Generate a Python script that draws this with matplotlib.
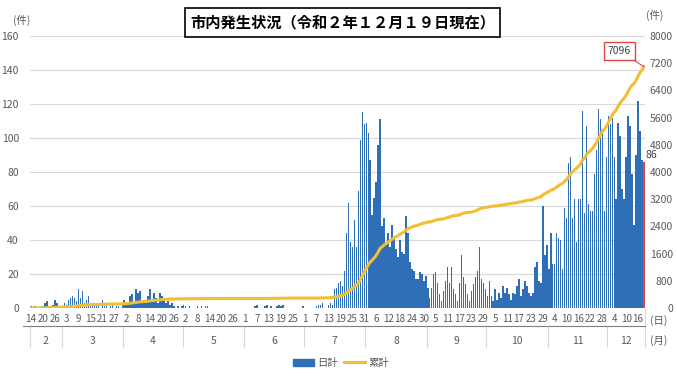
import numpy as np
import pandas as pd
import matplotlib
matplotlib.use("Agg")
import matplotlib.pyplot as plt
from matplotlib.patches import Rectangle, Patch
from matplotlib.lines import Line2D

plt.rcParams["font.family"] = ["Noto Sans CJK JP", "DejaVu Sans"]

# === Data: daily new cases (日計), 2020-02-14 .. 2020-12-19 ===
feb = [1, 0, 1, 0, 0, 0, 1, 3, 4, 1, 0, 2, 5, 3, 0, 1]
mar = [1, 3, 2, 5, 6, 7, 6, 4, 11, 6, 10, 3, 5, 7, 2, 1, 3, 2, 1, 0, 5, 1, 2, 0, 1, 2, 0, 1, 1, 0, 3]
apr = [5, 2, 3, 7, 8, 3, 11, 9, 10, 4, 5, 3, 7, 11, 4, 9, 6, 3, 9, 7, 5, 3, 4, 2, 3, 1, 0, 1, 0, 1]
may = [2, 1, 0, 1, 0, 0, 0, 1, 0, 1, 0, 1, 1, 0, 0, 0, 0, 0, 0, 0, 0, 0, 0, 0, 0, 0, 0, 0, 0, 0, 0]
jun = [0, 0, 0, 0, 0, 1, 2, 0, 0, 0, 1, 2, 0, 1, 0, 0, 1, 2, 1, 2, 0, 0, 0, 0, 0, 0, 0, 0, 0, 1]
jul = [0, 0, 0, 0, 0, 0, 1, 2, 2, 3, 0, 0, 2, 3, 2,
       11, 12, 15, 16, 13, 22, 44, 62, 39, 36, 52, 36, 69, 99, 115, 108]
aug = [109, 103, 87, 55, 65, 74, 96, 111, 48, 53, 37, 44, 36, 49, 42, 35, 30, 40, 33, 32,
       54, 44, 27, 23, 22, 17, 17, 21, 20, 16, 19]
sep = [12, 6, 12, 20, 21, 15, 8, 4, 10, 16, 24, 15, 24, 11, 8, 4, 15, 31, 18, 14,
       8, 4, 10, 14, 18, 22, 36, 17, 15, 11]
oct_ = [7, 16, 7, 4, 11, 5, 9, 6, 13, 9, 12, 8, 5, 9, 8, 13, 17, 7, 11, 16,
        13, 9, 7, 9, 24, 27, 16, 15, 60, 31, 37]
nov = [23, 44, 26, 26, 44, 41, 40, 23, 59, 53, 85, 89, 53, 64, 39, 64, 64, 116, 56, 107,
       61, 57, 57, 79, 93, 117, 111, 105, 57, 89]
dec = [113, 108, 112, 89, 64, 109, 101, 70, 64, 89, 113, 107, 79, 49, 90, 122, 104, 87, 86]

title = "市内発生状況（令和２年１２月１９日現在）"
BLUE = "#2E6FB7"
GOLD = "#F3BE34"
RED = "#E04545"
GRAY = "#595959"

dates = pd.date_range("2020-02-14", "2020-12-19")
daily = np.array(feb + mar + apr + may + jun + jul + aug + sep + oct_ + nov + dec)
cum = np.cumsum(daily)
x = np.arange(len(daily))

fig = plt.figure(figsize=(6.77, 3.79), dpi=100)
ax = fig.add_axes([30 / 677, 71 / 379, 615 / 677, 272 / 379])
ax.set_xlim(-0.5, len(x) - 0.5)
ax.set_ylim(0, 160)

ax.bar(x[:-1], daily[:-1], width=0.75, color=BLUE, zorder=2)
ax.bar(x[-1], daily[-1], width=0.75, color=RED, zorder=2)
ax.annotate(str(daily[-1]), xy=(x[-1], daily[-1]), xytext=(1, 5), textcoords="offset points",
            ha="left", va="center", fontsize=7.5, color="#404040")

ax.set_yticks(range(0, 161, 20))
ax.yaxis.grid(True, color="#D9D9D9", lw=0.8)
ax.set_axisbelow(True)
for s in ax.spines.values():
    s.set_visible(False)
ax.tick_params(axis="y", length=0, pad=8, labelsize=7.5, labelcolor=GRAY)

# day ticks every 6 days
ax.set_xticks(x[::6])
ax.set_xticklabels([str(d.day) for d in dates[::6]])
ax.tick_params(axis="x", length=0, pad=4, labelsize=7, labelcolor=GRAY)

# month row
xt = ax.get_xaxis_transform()
months = pd.Series(x, index=dates).groupby(dates.month)
for m, idx in months:
    ax.text((idx.iloc[0] + idx.iloc[-1]) / 2, -0.121, str(m), transform=xt,
            ha="center", va="center", fontsize=7.5, color=GRAY)
    ax.plot([idx.iloc[0] - 0.5] * 2, [-0.066, -0.143], transform=xt, color="#D9D9D9",
            lw=0.8, clip_on=False)
ax.plot([x[-1] + 0.5] * 2, [-0.005, -0.143], transform=xt, color="#D9D9D9", lw=0.8, clip_on=False)
ax.plot([-0.012, 1.0], [-0.066, -0.066], transform=ax.transAxes, color="#7F7F7F", lw=0.8,
        clip_on=False)
ax.text(1.0228, -0.0478, "(日)", transform=ax.transAxes, ha="center", va="center",
        fontsize=7.5, color=GRAY)
ax.text(1.0228, -0.121, "(月)", transform=ax.transAxes, ha="center", va="center",
        fontsize=7.5, color=GRAY)

# cumulative on right axis
ax2 = ax.twinx()
ax2.set_ylim(0, 8000)
ax2.set_yticks(range(0, 8001, 800))
for s in ax2.spines.values():
    s.set_visible(False)
ax2.tick_params(axis="y", length=0, pad=20, labelsize=7.5, labelcolor=GRAY)
for lab in ax2.get_yticklabels():
    lab.set_ha("right")
ax2.plot(x, cum, color=GOLD, lw=2.2, zorder=3)
ax2.annotate(str(cum[-1]), xy=(x[-1], cum[-1]), xytext=(296.6, 7559), textcoords="data",
             ha="center", va="center", fontsize=7.5, color="#404040",
             bbox=dict(boxstyle="square,pad=0.35", fc="white", ec=RED, lw=1),
             arrowprops=dict(arrowstyle="-", color=RED, lw=0.8, shrinkA=0, shrinkB=0))

# units
fig.text(22 / 677, 1 - 20 / 379, "(件)", ha="center", va="center", fontsize=7.5, color=GRAY)
fig.text(655 / 677, 1 - 15 / 379, "(件)", ha="center", va="center", fontsize=7.5, color=GRAY)

# title box
fig.add_artist(Rectangle((185 / 677, 1 - 37 / 379), 315 / 677, 29 / 379, transform=fig.transFigure,
                         fc="white", ec="black", lw=1.2))
fig.text(342.5 / 677, 1 - 22.5 / 379, title, ha="center", va="center", fontsize=11,
         fontweight="bold", color="black")

handles = [Patch(color=BLUE, label="日計"), Line2D([], [], color=GOLD, lw=2.2, label="累計")]
fig.legend(handles=handles, loc="center", bbox_to_anchor=(341 / 677, 1 - 363 / 379), ncol=2,
           frameon=False, fontsize=7.5, handlelength=2.0, handletextpad=0.3,
           columnspacing=0.6, labelcolor=GRAY)

fig.savefig("out.png", dpi=100)
